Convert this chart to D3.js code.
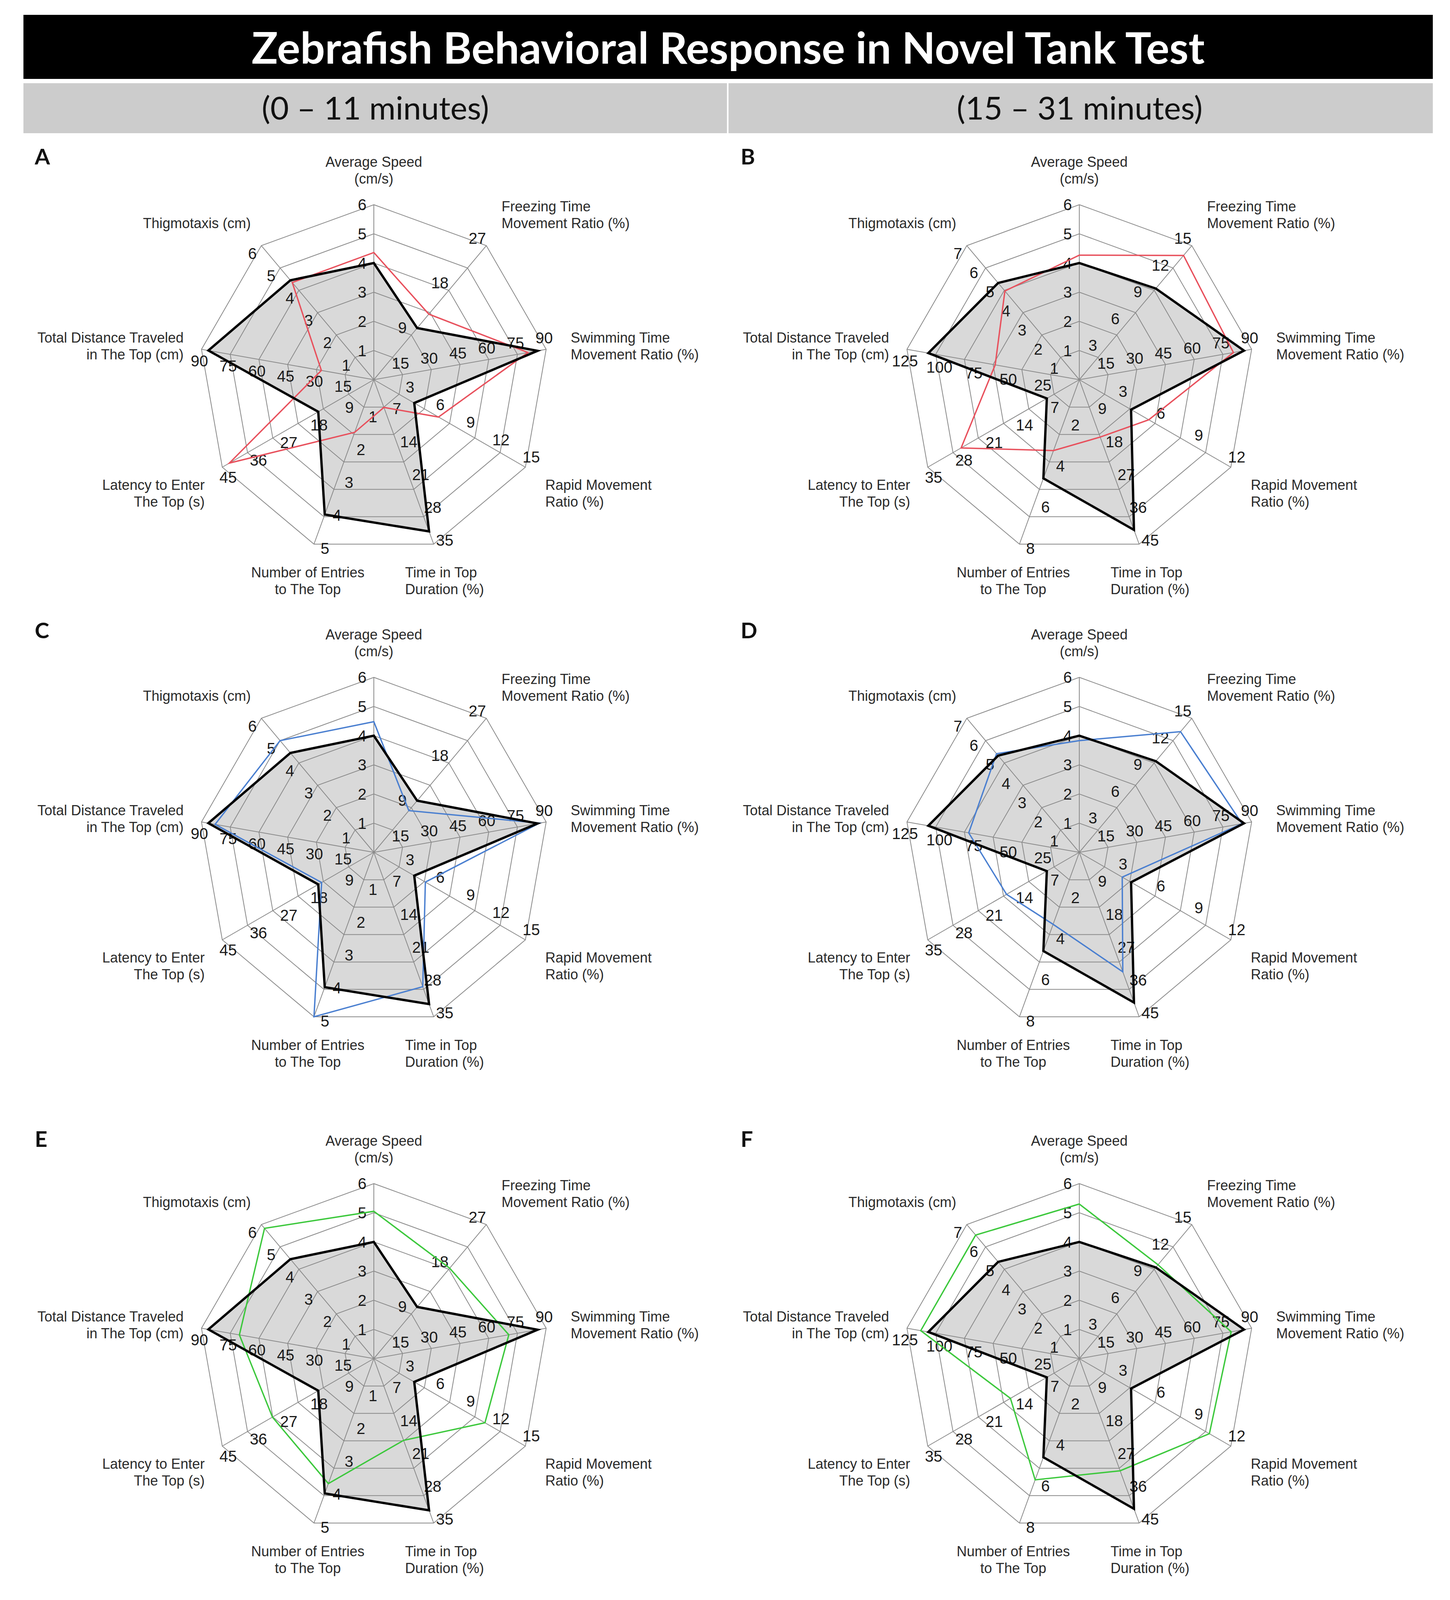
<!DOCTYPE html>
<html lang="en">
<head>
  <meta charset="UTF-8">
  <title>Zebrafish Behavioral Response in Novel Tank Test</title>
  <script src="https://cdn.jsdelivr.net/npm/d3@7"></script>
  <style>
    body { margin: 0; background: #fff; }
    svg { display: block; }
  </style>
</head>
<body>
  <svg width="3712" height="4106"></svg>
  <script>
    // axis names, clockwise from the top
    var categories = [
      ['Average Speed', '(cm/s)'],
      ['Freezing Time', 'Movement Ratio (%)'],
      ['Swimming Time', 'Movement Ratio (%)'],
      ['Rapid Movement', 'Ratio (%)'],
      ['Time in Top', 'Duration (%)'],
      ['Number of Entries', 'to The Top'],
      ['Latency to Enter', 'The Top (s)'],
      ['Total Distance Traveled', 'in The Top (cm)'],
      ['Thigmotaxis (cm)']
    ];

    // tick labels per axis (last one = outer ring)
    var ticksEarly = [
      [1, 2, 3, 4, 5, 6], [9, 18, 27], [15, 30, 45, 60, 75, 90], [3, 6, 9, 12, 15],
      [7, 14, 21, 28, 35], [1, 2, 3, 4, 5], [9, 18, 27, 36, 45], [15, 30, 45, 60, 75, 90],
      [1, 2, 3, 4, 5, 6]
    ];
    var ticksLate = [
      [1, 2, 3, 4, 5, 6], [3, 6, 9, 12, 15], [15, 30, 45, 60, 75, 90], [3, 6, 9, 12],
      [9, 18, 27, 36, 45], [2, 4, 6, 8], [7, 14, 21, 28, 35], [25, 50, 75, 100, 125],
      [1, 2, 3, 4, 5, 6, 7]
    ];

    // control (black, grey filled)
    var controlEarly = [4.0, 10.4, 85.5, 4.0, 32.3, 4.1, 16.5, 86.4, 4.45];
    var controlLate  = [4.0, 10.2, 86.0, 4.1, 41.1, 4.8, 7.5, 109.5, 5.05];

    // treated groups
    var redEarly   = [4.36, 13.2, 80.5, 6.4, 5.9, 1.6, 42.9, 27.4, 4.35];
    var redLate    = [4.27, 13.9, 80.5, 5.5, 15.7, 3.45, 27.3, 61, 4.63];
    var blueEarly  = [4.48, 8.4, 86.5, 5.1, 28.6, 5.0, 15.5, 82.9, 5.0];
    var blueLate   = [3.83, 13.5, 85.0, 3.4, 32.7, 3.5, 16.8, 80.2, 5.15];
    var greenEarly = [5.05, 18.2, 70.5, 11.0, 17.4, 3.8, 30.1, 70.2, 5.83];
    var greenLate  = [5.3, 10.5, 79.3, 10.3, 30.7, 5.9, 15.9, 115, 6.45];

    var panels = [
      {letter: 'A', col: 0, row: 0, ticks: ticksEarly, control: controlEarly, test: redEarly, color: '#e8505c'},
      {letter: 'B', col: 1, row: 0, ticks: ticksLate, control: controlLate, test: redLate, color: '#e8505c'},
      {letter: 'C', col: 0, row: 1, ticks: ticksEarly, control: controlEarly, test: blueEarly, color: '#4a7fd0'},
      {letter: 'D', col: 1, row: 1, ticks: ticksLate, control: controlLate, test: blueLate, color: '#4a7fd0'},
      {letter: 'E', col: 0, row: 2, ticks: ticksEarly, control: controlEarly, test: greenEarly, color: '#3cc83c'},
      {letter: 'F', col: 1, row: 2, ticks: ticksLate, control: controlLate, test: greenLate, color: '#3cc83c'}
    ];

    var svg = d3.select('svg');
    var W = 3712, H = 4106;
    var R = 448;
    var colX = [957, 2763];
    var rowY = [972, 2182, 3478];
    var letterX = [89, 1896];
    var letterY = [421, 1634, 2936];

    // where the axis names sit, relative to the centre
    var labelPos = [
      {x: 0, y: -545, anchor: 'middle'},
      {x: 327, y: -431, anchor: 'start'},
      {x: 504, y: -95, anchor: 'start'},
      {x: 439, y: 282, anchor: 'start'},
      {x: 80, y: 506, anchor: 'start'},
      {x: -169, y: 506, anchor: 'middle'},
      {x: -433, y: 282, anchor: 'end'},
      {x: -487, y: -95, anchor: 'end'},
      {x: -315, y: -388, anchor: 'end'}
    ];

    svg.append('rect').attr('width', W).attr('height', H).attr('fill', '#fff');

    // header
    svg.append('rect')
      .attr('x', 60).attr('y', 38).attr('width', 3608).attr('height', 164)
      .attr('fill', '#000');
    svg.append('text')
      .attr('x', 1864).attr('y', 163)
      .attr('text-anchor', 'middle')
      .attr('font-family', 'Lato, "Open Sans", sans-serif')
      .attr('font-weight', 700)
      .attr('font-size', 112)
      .attr('textLength', 2440)
      .attr('lengthAdjust', 'spacingAndGlyphs')
      .attr('fill', '#fff')
      .text('Zebrafish Behavioral Response in Novel Tank Test');

    svg.append('rect')
      .attr('x', 60).attr('y', 213).attr('width', 3608).attr('height', 128)
      .attr('fill', '#cccccc');
    svg.append('line')
      .attr('x1', 1863).attr('x2', 1863).attr('y1', 213).attr('y2', 341)
      .attr('stroke', '#fff').attr('stroke-width', 4);
    svg.selectAll('text.sub')
      .data(['(0 \u2013 11 minutes)', '(15 \u2013 31 minutes)'])
      .enter().append('text')
      .attr('class', 'sub')
      .attr('x', function(d, i) { return i === 0 ? 961 : 2764; })
      .attr('y', 306)
      .attr('text-anchor', 'middle')
      .attr('font-family', 'Lato, "Open Sans", sans-serif')
      .attr('font-size', 82)
      .attr('fill', '#111')
      .text(function(d) { return d; });

    var angle = d3.scaleLinear().domain([0, categories.length]).range([0, 2 * Math.PI]);
    var ring = d3.scaleLinear().domain([0, 6]).range([0, R]);
    var idx = d3.range(categories.length);

    function px(a, r) { return r * Math.sin(a); }
    function py(a, r) { return -r * Math.cos(a); }

    panels.forEach(function(p) {
      var cx = colX[p.col], cy = rowY[p.row];
      var scales = p.ticks.map(function(t) {
        return d3.scaleLinear().domain([0, d3.max(t)]).range([0, R]);
      });
      var shape = d3.lineRadial()
        .angle(function(d, i) { return angle(i); })
        .radius(function(d, i) { return scales[i](d); })
        .curve(d3.curveLinearClosed);

      svg.append('text')
        .attr('x', letterX[p.col]).attr('y', letterY[p.row])
        .attr('font-family', 'Lato, "Open Sans", sans-serif')
        .attr('font-weight', 700)
        .attr('font-size', 56)
        .attr('fill', '#111')
        .text(p.letter);

      var g = svg.append('g').attr('transform', 'translate(' + cx + ',' + cy + ')');

      // control area
      g.append('path')
        .datum(p.control)
        .attr('d', shape)
        .attr('fill', '#d9d9d9');

      // rings
      d3.range(1, 7).forEach(function(k) {
        var ringPath = d3.lineRadial()
          .angle(function(d) { return angle(d); })
          .radius(ring(k))
          .curve(d3.curveLinearClosed);
        g.append('path')
          .datum(idx)
          .attr('d', ringPath)
          .attr('fill', 'none')
          .attr('stroke', '#8a8a8a')
          .attr('stroke-width', 2);
      });

      // spokes
      g.selectAll('line.spoke')
        .data(idx)
        .enter().append('line')
        .attr('class', 'spoke')
        .attr('x1', 0).attr('y1', 0)
        .attr('x2', function(i) { return px(angle(i), ring(6)); })
        .attr('y2', function(i) { return py(angle(i), ring(6)); })
        .attr('stroke', '#8a8a8a')
        .attr('stroke-width', 2);

      // tick labels, set off to the left of each spoke
      var tickData = [];
      p.ticks.forEach(function(t, i) {
        t.forEach(function(v) { tickData.push({i: i, v: v}); });
      });
      var off = 30;
      g.selectAll('text.tick')
        .data(tickData)
        .enter().append('text')
        .attr('class', 'tick')
        .attr('x', function(d) {
          var a = angle(d.i);
          return px(a, scales[d.i](d.v)) - Math.cos(a) * off;
        })
        .attr('y', function(d) {
          var a = angle(d.i);
          return py(a, scales[d.i](d.v)) - Math.sin(a) * off;
        })
        .attr('dy', '0.36em')
        .attr('text-anchor', 'middle')
        .attr('font-family', '"Liberation Sans", Arial, sans-serif')
        .attr('font-size', 40)
        .attr('fill', '#1a1a1a')
        .text(function(d) { return d.v; });

      // axis names
      categories.forEach(function(lines, i) {
        var lp = labelPos[i];
        var t = g.append('text')
          .attr('text-anchor', lp.anchor)
          .attr('font-family', '"Liberation Sans", Arial, sans-serif')
          .attr('font-size', 36)
          .attr('fill', '#2a2a2a');
        lines.forEach(function(s, j) {
          t.append('tspan')
            .attr('x', lp.x)
            .attr('y', lp.y + j * 43)
            .text(s);
        });
      });

      // treated group
      g.append('path')
        .datum(p.test)
        .attr('d', shape)
        .attr('fill', 'none')
        .attr('stroke', p.color)
        .attr('stroke-width', 3.5)
        .attr('stroke-linejoin', 'miter');

      // control outline
      g.append('path')
        .datum(p.control)
        .attr('d', shape)
        .attr('fill', 'none')
        .attr('stroke', '#000')
        .attr('stroke-width', 6)
        .attr('stroke-linejoin', 'miter');
    });
  </script>
</body>
</html>
